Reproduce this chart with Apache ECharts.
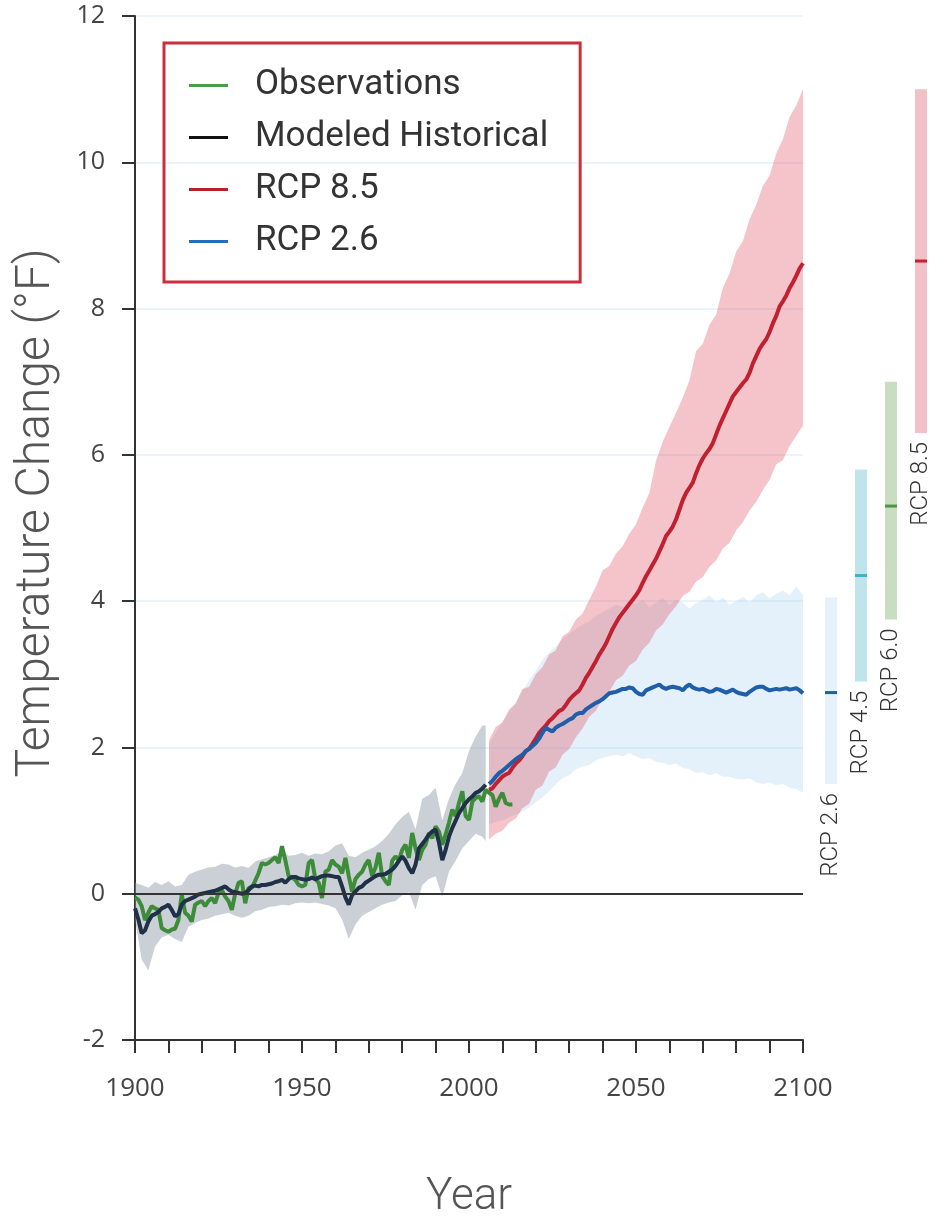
<!DOCTYPE html>
<html>
<head>
<meta charset="utf-8">
<title>Temperature Change</title>
<script src="https://cdn.jsdelivr.net/npm/echarts@6/dist/echarts.min.js"></script>
<style>
  html, body { margin: 0; padding: 0; background: #fff; }
  #chart { width: 946px; height: 1219px; }
</style>
</head>
<body>
<div id="chart"></div>
<script>
function yearRange(from, to, step) {
  const out = [];
  for (let y = from; y <= to; y += step) out.push(y);
  return out;
}

// observed temperature change, 1900-2013 (°F)
const obsYears = yearRange(1900, 2013, 1);
const obsValues = [
  -0.05, -0.08, -0.17, -0.36, -0.26, -0.17, -0.2, -0.22, -0.47, -0.5,
  -0.52, -0.49, -0.48, -0.36, -0.01, -0.26, -0.3, -0.38, -0.15, -0.12,
  -0.1, -0.17, -0.1, -0.06, -0.13, 0.01, 0.05, -0.04, -0.1, -0.22,
  0.0, 0.15, 0.17, -0.13, 0.08, 0.08, 0.18, 0.28, 0.42, 0.4,
  0.42, 0.46, 0.5, 0.42, 0.65, 0.46, 0.24, 0.22, 0.19, 0.12,
  0.1, 0.12, 0.42, 0.46, 0.2, 0.15, -0.06, 0.3, 0.33, 0.46,
  0.4, 0.37, 0.28, 0.49, 0.24, 0.03, 0.2, 0.26, 0.3, 0.4,
  0.46, 0.24, 0.36, 0.56, 0.24, 0.17, 0.12, 0.45, 0.51, 0.46,
  0.6, 0.67, 0.49, 0.83, 0.62, 0.46, 0.6, 0.67, 0.83, 0.76,
  0.92, 0.85, 0.67, 0.81, 0.97, 1.15, 1.06, 1.24, 1.4, 1.06,
  1.01, 1.26, 1.31, 1.33, 1.26, 1.42, 1.38, 1.35, 1.19, 1.3,
  1.38, 1.24, 1.22, 1.22
];

// modeled historical mean, 1900-2005
const histYears = yearRange(1900, 2005, 1);
const histValues = [
  -0.2, -0.35, -0.54, -0.5, -0.38, -0.3, -0.28, -0.25, -0.2, -0.18,
  -0.15, -0.22, -0.31, -0.28, -0.15, -0.1, -0.08, -0.06, -0.04, -0.01,
  0.0, 0.01, 0.02, 0.03, 0.04, 0.06, 0.08, 0.1, 0.06, 0.03,
  0.02, 0.01, 0.0, 0.01, 0.05, 0.1, 0.11, 0.1, 0.12, 0.12,
  0.13, 0.14, 0.16, 0.17, 0.19, 0.15, 0.2, 0.23, 0.23, 0.21,
  0.2, 0.19, 0.2, 0.22, 0.2, 0.22, 0.24, 0.25, 0.25, 0.24,
  0.23, 0.23, 0.1, -0.05, -0.15, -0.02, 0.03, 0.08, 0.1, 0.15,
  0.18, 0.21, 0.24, 0.26, 0.26, 0.27, 0.3, 0.33, 0.38, 0.45,
  0.51, 0.45, 0.35, 0.28, 0.4, 0.62, 0.68, 0.74, 0.81, 0.85,
  0.88, 0.7, 0.46, 0.6, 0.78, 0.9, 1.0, 1.1, 1.17, 1.24,
  1.29, 1.33, 1.38, 1.4, 1.44, 1.49
];

// modeled historical range
const histBandYears = [...yearRange(1900, 2004, 2), 2005];
const histLow = [
  -0.35, -0.9, -1.05, -0.72, -0.6, -0.56, -0.62, -0.66, -0.45, -0.4,
  -0.36, -0.34, -0.3, -0.28, -0.26, -0.3, -0.33, -0.3, -0.24, -0.22,
  -0.18, -0.17, -0.15, -0.16, -0.13, -0.12, -0.13, -0.12, -0.14, -0.16,
  -0.2, -0.35, -0.62, -0.42, -0.3, -0.25, -0.2, -0.15, -0.12, -0.1,
  -0.02, 0.02, -0.22, 0.12, 0.2, 0.24, -0.04, 0.3, 0.45, 0.62,
  0.72, 0.82, 0.78, 0.72
];
const histHigh = [
  0.15, 0.12, 0.08, 0.16, 0.12, 0.17, 0.1, 0.12, 0.26, 0.3,
  0.33, 0.36, 0.37, 0.41, 0.4, 0.36, 0.38, 0.35, 0.44, 0.47,
  0.5, 0.53, 0.58, 0.52, 0.53, 0.56, 0.52, 0.55, 0.54, 0.58,
  0.66, 0.69, 0.52, 0.5, 0.56, 0.6, 0.65, 0.72, 0.82, 0.95,
  1.05, 1.12, 0.88, 1.3, 1.35, 1.45, 1.0, 1.3, 1.5, 1.65,
  1.95, 2.15, 2.3, 2.3
];

// projections, 2006-2100
const projYears = yearRange(2006, 2100, 1);
const rcp85Values = [
  1.42, 1.44, 1.5, 1.55, 1.6, 1.63, 1.65, 1.72, 1.78, 1.82,
  1.88, 1.95, 1.98, 2.05, 2.12, 2.2, 2.25, 2.3, 2.36, 2.4,
  2.45, 2.5, 2.52, 2.58, 2.65, 2.7, 2.74, 2.78, 2.86, 2.95,
  3.02, 3.1, 3.18, 3.27, 3.34, 3.42, 3.52, 3.62, 3.7, 3.78,
  3.84, 3.9, 3.96, 4.02, 4.08, 4.15, 4.25, 4.34, 4.42, 4.5,
  4.58, 4.68, 4.78, 4.89, 4.95, 5.02, 5.12, 5.25, 5.38, 5.48,
  5.55, 5.62, 5.75, 5.86, 5.95, 6.02, 6.08, 6.16, 6.28, 6.4,
  6.5, 6.6, 6.7, 6.8, 6.86, 6.92, 6.98, 7.03, 7.12, 7.25,
  7.35, 7.45, 7.52, 7.58, 7.68, 7.8, 7.9, 8.03, 8.1, 8.18,
  8.28, 8.36, 8.45, 8.55, 8.62
];
const rcp26Values = [
  1.5, 1.54, 1.6, 1.65, 1.68, 1.72, 1.76, 1.8, 1.84, 1.87,
  1.9, 1.95, 1.98, 2.02, 2.06, 2.12, 2.2, 2.27, 2.24, 2.22,
  2.27, 2.3, 2.32, 2.35, 2.38, 2.4, 2.45, 2.47, 2.47, 2.52,
  2.55, 2.58, 2.61, 2.63, 2.66, 2.7, 2.74, 2.75, 2.76, 2.78,
  2.8, 2.8, 2.82, 2.81, 2.76, 2.73, 2.72, 2.78, 2.8, 2.82,
  2.84, 2.86, 2.82, 2.8, 2.82, 2.83, 2.82, 2.81, 2.78, 2.83,
  2.86, 2.82, 2.8, 2.79, 2.8, 2.78, 2.76, 2.77, 2.8, 2.79,
  2.77, 2.75, 2.77, 2.79, 2.76, 2.74, 2.73, 2.72, 2.76, 2.79,
  2.82, 2.83, 2.83, 2.8, 2.78, 2.79, 2.8, 2.79, 2.8, 2.81,
  2.79, 2.8, 2.81, 2.78, 2.74
];

// projection ranges
const projBandYears = yearRange(2006, 2100, 2);
const rcp85Low = [
  0.74, 0.82, 0.86, 0.97, 1.03, 1.17, 1.23, 1.42, 1.48, 1.67,
  1.73, 1.9, 1.98, 2.14, 2.26, 2.42, 2.5, 2.67, 2.76, 2.92,
  2.98, 3.12, 3.18, 3.34, 3.43, 3.6, 3.68, 3.82, 3.93, 4.07,
  4.13, 4.27, 4.33, 4.47, 4.56, 4.72, 4.8, 4.97, 5.08, 5.24,
  5.36, 5.52, 5.66, 5.87, 5.93, 6.12, 6.26, 6.4
];
const rcp85High = [
  2.1, 2.28, 2.34, 2.52, 2.6, 2.8, 2.83, 3.0, 3.1, 3.27,
  3.33, 3.52, 3.58, 3.75, 3.83, 4.02, 4.2, 4.42, 4.48, 4.65,
  4.75, 4.92, 5.05, 5.28, 5.48, 5.92, 6.18, 6.38, 6.58, 6.78,
  7.02, 7.42, 7.52, 7.78, 7.92, 8.28, 8.48, 8.78, 8.92, 9.22,
  9.42, 9.68, 9.82, 10.12, 10.32, 10.62, 10.78, 11.0
];
const rcp26Low = [
  0.95, 0.98, 1.0, 1.05, 1.08, 1.12, 1.18, 1.25, 1.32, 1.4,
  1.5, 1.58, 1.62, 1.7, 1.74, 1.76, 1.82, 1.86, 1.88, 1.9,
  1.88, 1.92, 1.88, 1.84, 1.86, 1.8, 1.79, 1.76, 1.78, 1.72,
  1.7, 1.65, 1.66, 1.62, 1.65, 1.6, 1.6, 1.57, 1.56, 1.58,
  1.52, 1.5, 1.52, 1.48, 1.5, 1.45, 1.43, 1.38
];
const rcp26High = [
  2.05, 2.2, 2.35, 2.48, 2.62, 2.78, 2.92, 3.05, 3.2, 3.3,
  3.38, 3.48, 3.55, 3.62, 3.68, 3.72, 3.8, 3.85, 3.9, 3.95,
  3.92, 4.0, 3.96, 4.02, 3.92, 3.98, 4.05, 3.95, 4.02, 3.98,
  3.9, 3.97, 4.02, 4.08, 3.98, 4.05, 3.95, 4.0, 4.06, 3.98,
  4.08, 4.12, 4.04, 4.1, 4.15, 4.08, 4.2, 4.08
];

// end-of-century ranges (2100)
const rcpNames = ['RCP 2.6', 'RCP 4.5', 'RCP 6.0', 'RCP 8.5'];
const rcpLow = [1.5, 2.9, 3.75, 6.3];
const rcpHigh = [4.05, 5.8, 7.0, 11.0];
const rcpMid = [2.75, 4.35, 5.3, 8.65];

const yTicks = [-2, 0, 2, 4, 6, 8, 10, 12];

const rcpBarColors = ['#e6f1fa', '#bfe5ea', '#c9ddc1', '#f1c1c7'];
const rcpMidColors = ['#1f5ea8', '#3bb6c4', '#4a9644', '#c8202e'];

const zip = (xs, ys) => xs.map((x, i) => [x, ys[i]]);

// one filled polygon per range, drawn through the axis scales
function bandSeries(name, years, low, high, color) {
  return {
    name: name, type: 'custom', silent: true, z: 1,
    data: years.map((y, i) => [y, low[i], high[i]]),
    encode: { x: 0, y: [1, 2] },
    renderItem: (params, api) => {
      if (params.dataIndex !== 0) return null;
      const upper = years.map((y, i) => api.coord([y, high[i]]));
      const lower = years.map((y, i) => api.coord([y, low[i]])).reverse();
      return {
        type: 'polygon',
        shape: { points: upper.concat(lower) },
        style: { fill: color }
      };
    }
  };
}

const chart = echarts.init(document.getElementById('chart'));

const axisColor = '#333';
const labelFont = "'Open Sans', 'DejaVu Sans', sans-serif";

chart.setOption({
  animation: false,
  backgroundColor: '#fff',
  legend: {
    left: 164,
    top: 43,
    orient: 'vertical',
    icon: 'rect',
    itemWidth: 39,
    itemHeight: 3,
    itemGap: 17,
    padding: [25, 32, 23, 25],
    borderColor: '#c8303c',
    borderWidth: 3,
    textStyle: { fontFamily: 'Roboto', fontSize: 35, color: '#333', padding: [0, 0, 0, 22] },
    data: [
      { name: 'Observations', itemStyle: { color: '#4a9d46' } },
      { name: 'Modeled Historical', itemStyle: { color: '#111' } },
      { name: 'RCP 8.5', itemStyle: { color: '#b5202f' } },
      { name: 'RCP 2.6', itemStyle: { color: '#2a6bb5' } }
    ]
  },
  grid: [
    { left: 135, right: 143, top: 16, bottom: 179, outerBoundsMode: 'none' },
    { left: 816, width: 120, top: 16, bottom: 179, outerBoundsMode: 'none' }
  ],
  xAxis: [
    {
      type: 'value', min: 1900, max: 2100, interval: 10,
      name: 'Year', nameLocation: 'middle', nameGap: 136,
      nameTextStyle: { fontFamily: 'Roboto', fontWeight: 300, fontSize: 44, color: '#555' },
      axisLine: { onZero: false, lineStyle: { color: axisColor, width: 2 } },
      axisTick: { show: true, length: 13, lineStyle: { color: axisColor, width: 2 } },
      axisLabel: {
        margin: 36, fontFamily: labelFont, fontSize: 26, color: '#444',
        formatter: (v) => (v % 50 === 0 ? String(v) : '')
      },
      splitLine: { show: false }
    },
    {
      gridIndex: 1, type: 'category', data: rcpNames, show: false
    }
  ],
  yAxis: [
    {
      type: 'value', min: yTicks[0], max: yTicks[yTicks.length - 1], interval: 2,
      name: 'Temperature Change (°F)', nameLocation: 'middle', nameGap: 74,
      nameTextStyle: {
        fontFamily: 'Roboto', fontWeight: 300, fontSize: 48, color: '#555',
        padding: [0, 0, 0, 30]
      },
      axisLine: { show: true, onZero: false, lineStyle: { color: axisColor, width: 2 } },
      axisTick: { show: true, length: 13, lineStyle: { color: axisColor, width: 2 } },
      axisLabel: { margin: 30, fontFamily: labelFont, fontSize: 25, color: '#444' },
      splitLine: { show: true, lineStyle: { color: '#e4f0fa', width: 1.5 } }
    },
    {
      gridIndex: 1, type: 'value', min: yTicks[0], max: yTicks[yTicks.length - 1], show: false
    }
  ],
  series: [
    bandSeries('hist-range', histBandYears, histLow, histHigh, 'rgba(140,150,165,0.45)'),
    bandSeries('rcp26-range', projBandYears, rcp26Low, rcp26High, 'rgba(170,210,240,0.32)'),
    bandSeries('rcp85-range', projBandYears, rcp85Low, rcp85High, 'rgba(222,70,90,0.32)'),
    {
      name: 'Observations', type: 'line', data: zip(obsYears, obsValues), z: 3,
      symbol: 'none', lineStyle: { color: '#3c8c3a', width: 4 }, itemStyle: { color: '#4a9d46' },
      markLine: {
        silent: true, symbol: 'none', label: { show: false },
        lineStyle: { color: '#333', width: 2, type: 'solid' },
        data: [{ yAxis: 0 }]
      }
    },
    {
      name: 'Modeled Historical', type: 'line', data: zip(histYears, histValues), z: 4,
      symbol: 'none', lineStyle: { color: '#1f3048', width: 4 }, itemStyle: { color: '#111' }
    },
    {
      name: 'RCP 8.5', type: 'line', data: zip(projYears, rcp85Values), z: 4,
      symbol: 'none', lineStyle: { color: '#c0202f', width: 4 }, itemStyle: { color: '#b5202f' }
    },
    {
      name: 'RCP 2.6', type: 'line', data: zip(projYears, rcp26Values), z: 5,
      symbol: 'none', lineStyle: { color: '#1f5ea8', width: 4 }, itemStyle: { color: '#2a6bb5' }
    },
    {
      name: 'ranges2100', type: 'custom', xAxisIndex: 1, yAxisIndex: 1, silent: true,
      data: rcpNames.map((n, i) => [i, rcpLow[i], rcpHigh[i], rcpMid[i]]),
      renderItem: (params, api) => {
        const i = api.value(0);
        const top = api.coord([i, api.value(2)]);
        const bottom = api.coord([i, api.value(1)]);
        const mid = api.coord([i, api.value(3)]);
        const w = 12;
        return {
          type: 'group',
          children: [
            {
              type: 'rect',
              shape: { x: top[0] - w / 2, y: top[1], width: w, height: bottom[1] - top[1] },
              style: { fill: rcpBarColors[i] }
            },
            {
              type: 'rect',
              shape: { x: mid[0] - w / 2, y: mid[1] - 1.5, width: w, height: 3 },
              style: { fill: rcpMidColors[i] }
            },
            {
              type: 'text',
              x: bottom[0], y: bottom[1] + 9, rotation: Math.PI / 2,
              style: {
                text: rcpNames[i], fill: '#333', fontSize: 24, fontWeight: 300,
                fontFamily: 'Roboto',
                align: 'right', verticalAlign: 'middle'
              }
            }
          ]
        };
      }
    }
  ]
});
</script>
</body>
</html>
